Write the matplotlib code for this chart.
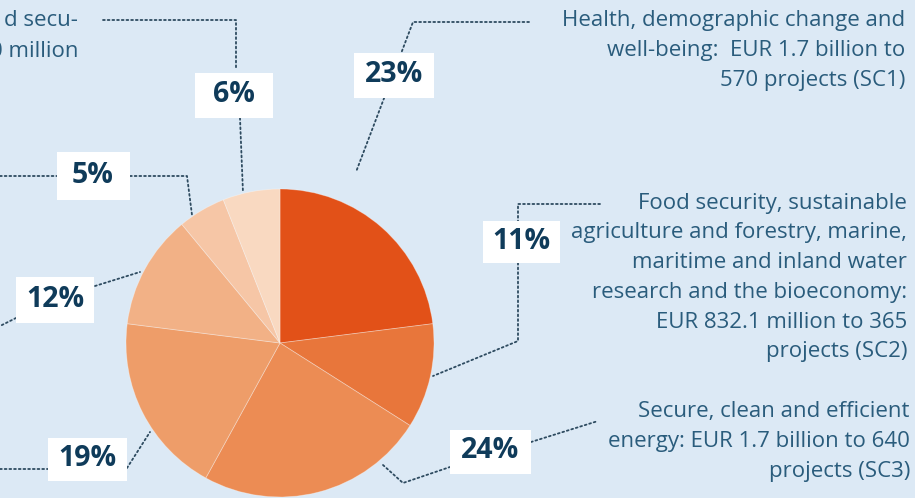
import matplotlib
matplotlib.use("Agg")
import matplotlib.pyplot as plt
from matplotlib.patches import Rectangle

# ---- data ----
shares = [23, 11, 24, 19, 12, 5, 6]
pct_labels = ["23%", "11%", "24%", "19%", "12%", "5%", "6%"]
colors = ["#E25118", "#E8763B", "#EC8C54", "#EE9D69", "#F2B186", "#F6C6A6", "#F9D9C1"]

sc1_text = ["Health, demographic change and",
            "well-being:  EUR 1.7 billion to",
            "570 projects (SC1)"]
sc2_text = ["Food security, sustainable",
            "agriculture and forestry, marine,",
            "maritime and inland water",
            "research and the bioeconomy:",
            "EUR 832.1 million to 365",
            "projects (SC2)"]
sc3_text = ["Secure, clean and efficient",
            "energy: EUR 1.7 billion to 640",
            "projects (SC3)"]
sc7_text = ["d secu-",
            "0 million"]

W, H = 915, 498
BG = "#DCE9F5"
TXT = "#2A5C7C"
NAVY = "#0F3B5A"
LINE = "#2E4B60"
FONT = "Open Sans"

fig = plt.figure(figsize=(W / 100, H / 100), dpi=100, facecolor=BG)
ax = fig.add_axes([0, 0, 1, 1])
ax.set_facecolor(BG)

def Y(y):
    return H - y

ax.pie(shares, colors=colors, startangle=90, counterclock=False,
       center=(280, Y(343)), radius=154,
       wedgeprops=dict(linewidth=0.6, edgecolor=(1, 1, 1, 0.35)))
ax.set_xlim(0, W)
ax.set_ylim(0, H)
ax.set_aspect("equal")
ax.axis("off")

# leader lines (pixel layout, y from top)
leaders = [
    [(103, 20), (236, 20), (236, 70)], [(240, 118), (243, 193)],
    [(529, 22), (413, 22), (356, 172)],
    [(0, 176), (57, 176)], [(130, 176), (187, 176), (192, 215)],
    [(95, 286), (140, 272)], [(16, 318), (0, 326)],
    [(0, 469), (48, 469)], [(127, 468), (150, 432)],
    [(383, 465), (403, 483), (450, 467)], [(531, 442), (598, 421)],
    [(600, 204), (518, 204), (518, 341), (433, 376)],
]
for pts in leaders:
    xs = [p[0] for p in pts]
    ys = [Y(p[1]) for p in pts]
    ax.plot(xs, ys, linestyle=(0, (1, 1.6)), color=LINE, lw=1.3, zorder=3,
            solid_capstyle="round", dash_capstyle="round")

# percentage boxes (center x, center y, width, height)
boxes = [(394, 75, 80, 45), (521, 242, 77, 42), (490, 452, 81, 44),
         (87, 460, 79, 43), (55, 300, 78, 46), (93, 176, 73, 48),
         (234, 95, 78, 45)]
for (cx, cy, bw, bh), lab in zip(boxes, pct_labels):
    ax.add_patch(Rectangle((cx - bw / 2, Y(cy) - bh / 2), bw, bh,
                           facecolor="white", edgecolor="none", zorder=4))
    ax.text(cx, Y(cy) + 1, lab, ha="center", va="center", fontsize=20.5,
            fontweight="bold", color=NAVY, family=FONT, zorder=5)

def block(lines, x, y0, step=30):
    for i, s in enumerate(lines):
        ax.text(x, Y(y0 + i * step), s, ha="right", va="center",
                fontsize=16, color=TXT, family=FONT, zorder=5)

block(sc1_text, 905, 20)
block(sc2_text, 907, 203, 29.8)
block(sc3_text, 910, 412, 30)
block(sc7_text, 78, 20, 31)

fig.savefig("out.png", dpi=100, facecolor=BG)
